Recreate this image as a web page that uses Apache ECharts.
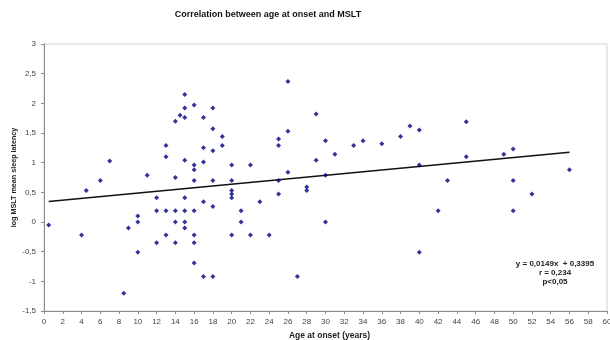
<!DOCTYPE html>
<html>
<head>
<meta charset="utf-8">
<script src="https://cdn.jsdelivr.net/npm/echarts@6/dist/echarts.min.js"></script>
<style>
  html, body { margin: 0; padding: 0; background: #fff; }
  #chart { width: 610px; height: 340px; }
</style>
</head>
<body>
<div id="chart"></div>
<script>
// Age at onset (years) for each patient
const ages = [
  0.5, 4, 4.5, 6, 7, 8.5, 9, 10, 10, 10,
  11, 12, 12, 12, 13, 13, 13, 13, 14, 14,
  14, 14, 14, 14.5, 15, 15, 15, 15, 15, 15,
  15, 15, 16, 16, 16, 16, 16, 16, 16, 16,
  17, 17, 17, 17, 17, 18, 18, 18, 18, 18,
  18, 19, 19, 20, 20, 20, 20, 20, 20, 21,
  21, 22, 22, 23, 24, 25, 25, 25, 25, 26,
  26, 26, 27, 28, 28, 29, 29, 30, 30, 30,
  31, 33, 34, 36, 38, 39, 40, 40, 40, 42,
  43, 45, 45, 49, 50, 50, 50, 52, 56
];

// log MSLT mean sleep latency for each patient (same order)
const logMslt = [
  -0.05, -0.22, 0.53, 0.70, 1.03, -1.20, -0.10, 0.10, 0.00, -0.51,
  0.79, 0.41, 0.19, -0.35, 1.29, 1.10, 0.19, -0.22, 1.70, 0.75,
  0.19, 0.00, -0.35, 1.80, 2.15, 1.92, 1.76, 1.04, 0.41, 0.19,
  0.00, -0.10, 1.97, 0.96, 0.88, 0.70, 0.19, -0.22, -0.35, -0.69,
  1.76, 1.25, 1.01, 0.34, -0.92, 1.92, 1.57, 1.20, 0.70, 0.26,
  -0.92, 1.44, 1.29, 0.96, 0.70, 0.53, 0.47, 0.41, -0.22, 0.19,
  0.00, 0.96, -0.22, 0.34, -0.22, 1.40, 1.29, 0.70, 0.47, 2.37,
  1.53, 0.84, -0.92, 0.59, 0.53, 1.82, 1.04, 1.37, 0.79, 0.00,
  1.14, 1.29, 1.37, 1.32, 1.44, 1.62, 1.55, 0.96, -0.51, 0.19,
  0.70, 1.69, 1.10, 1.14, 1.23, 0.70, 0.19, 0.47, 0.88
];

// Linear regression fit: y = slope * x + intercept, over the observed age range
const fitSlope = 0.0149;
const fitIntercept = 0.3395;
const fitRange = [0.5, 56];

// Statistics text shown beside the fit
const statLines = ['y = 0,0149x  + 0,3395', 'r = 0,234', 'p<0,05'];

const points = ages.map((a, i) => [a, logMslt[i]]);
const fitLine = fitRange.map(x => [x, fitSlope * x + fitIntercept]);

const chart = echarts.init(document.getElementById('chart'), null, { renderer: 'canvas' });
const font = 'Liberation Sans, Arial, sans-serif';
const commaDec = v => String(v).replace('.', ',');

chart.setOption({
  animation: false,
  backgroundColor: '#ffffff',
  textStyle: { fontFamily: font },
  grid: {
    left: 44, right: 3, top: 44, bottom: 29,
    containLabel: false, outerBoundsMode: 'none',
    show: true, borderColor: '#d4d4d4', borderWidth: 1, backgroundColor: 'transparent'
  },
  graphic: [
    {
      type: 'text', x: 268, y: 15,
      style: {
        text: 'Correlation between age at onset and MSLT',
        fontFamily: font, fontSize: 9, fontWeight: 'bold', fill: '#111',
        align: 'center', verticalAlign: 'middle'
      }
    },
    {
      type: 'text', x: 555, y: 259.5,
      style: {
        text: statLines.join('\n'),
        fontFamily: font, fontSize: 8, fontWeight: 'bold', fill: '#222',
        lineHeight: 9, align: 'center', verticalAlign: 'top'
      }
    }
  ],
  xAxis: {
    type: 'value', min: 0, max: 60, interval: 2,
    name: 'Age at onset (years)', nameLocation: 'middle', nameGap: 17,
    nameTextStyle: { fontFamily: font, fontSize: 8.5, fontWeight: 'bold', color: '#222', padding: [0, 0, 0, 8] },
    axisLine: { show: true, onZero: false, lineStyle: { color: '#8c8c8c', width: 1 } },
    axisTick: { show: true, length: 3, lineStyle: { color: '#8c8c8c' } },
    axisLabel: { fontFamily: font, fontSize: 8, color: '#444', margin: 7 },
    splitLine: { show: false }
  },
  yAxis: {
    type: 'value', min: -1.5, max: 3, interval: 0.5,
    name: 'log MSLT mean sleep latency', nameLocation: 'middle', nameGap: 26, nameRotate: 90,
    nameMoveOverlap: false,
    nameTextStyle: { fontFamily: font, fontSize: 7.2, fontWeight: 'bold', color: '#222' },
    axisLine: { show: true, onZero: false, lineStyle: { color: '#8c8c8c', width: 1 } },
    axisTick: { show: true, length: 3, lineStyle: { color: '#8c8c8c' } },
    axisLabel: { fontFamily: font, fontSize: 8, color: '#444', margin: 8, formatter: commaDec },
    splitLine: { show: false }
  },
  series: [
    {
      type: 'line', data: fitLine, showSymbol: false, silent: true,
      lineStyle: { color: '#111', width: 1.5 }, z: 1
    },
    {
      type: 'scatter', data: points, symbol: 'diamond', symbolSize: 5,
      itemStyle: { color: '#000080' }, z: 2
    }
  ]
});
</script>
</body>
</html>
